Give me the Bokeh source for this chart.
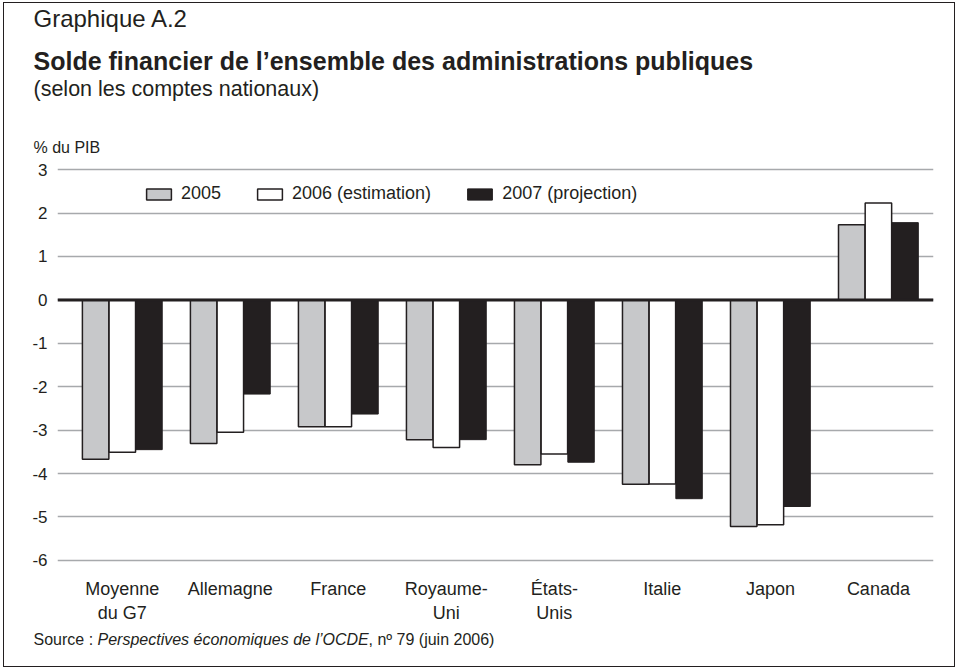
from bokeh.plotting import figure
from bokeh.models import (ColumnDataSource, Range1d, FixedTicker, Span, Label, Legend, LegendItem)
from bokeh.transform import dodge
from bokeh.embed import file_html
from bokeh.resources import INLINE

# ---- data ----
categories = ["Moyenne\ndu G7", "Allemagne", "France", "Royaume-\nUni", "États-\nUnis",
              "Italie", "Japon", "Canada"]
v2005 = [-3.67, -3.31, -2.92, -3.22, -3.80, -4.25, -5.22, 1.73]
v2006 = [-3.51, -3.05, -2.92, -3.40, -3.55, -4.24, -5.18, 2.23]
v2007 = [-3.45, -2.17, -2.63, -3.22, -3.74, -4.58, -4.76, 1.78]
series_labels = ["2005", "2006 (estimation)", "2007 (projection)"]
y_ticks = [-6, -5, -4, -3, -2, -1, 0, 1, 2, 3]

INK = "#231f20"
GREY = "#c7c8ca"
GRID = "#a7a9ac"
FONT = "Liberation Sans"
W = 952
BORDER = "1px solid #231f20"

def text_panel(y0, y1, styles):
    f = figure(width=W, height=y1 - y0, output_backend="svg", toolbar_location=None,
               title=None, x_range=Range1d(4, 4 + W), y_range=Range1d(y1, y0),
               x_axis_location=None, y_axis_location=None,
               min_border=0, min_border_left=0, min_border_right=0,
               min_border_top=0, min_border_bottom=0, styles=styles)
    f.outline_line_color = None
    f.xgrid.visible = False
    f.ygrid.visible = False
    return f

def lab(f, text, ax, ay, size, style="normal"):
    f.add_layout(Label(x=ax, y=ay, text=text, text_font=FONT, text_font_size=size,
                       text_font_style=style, text_color=INK,
                       text_baseline="alphabetic", text_align="left"))

# ---- header ----
head = text_panel(3, 158, {"margin-left": "3px", "margin-top": "2px", "border-top": BORDER,
                           "border-left": BORDER, "border-right": BORDER})
lab(head, "Graphique A.2", 33, 18, "24px")
lab(head, "Solde financier de l’ensemble des administrations publiques", 33, 60, "25px", "bold")
lab(head, "(selon les comptes nationaux)", 33, 88, "21.5px")
lab(head, "% du PIB", 33, 147, "16px")

# ---- main chart ----
idx = list(range(len(categories)))
src = ColumnDataSource(dict(idx=idx, v2005=v2005, v2006=v2006, v2007=v2007))

p = figure(width=W, height=468, output_backend="svg", toolbar_location=None, title=None,
           x_range=Range1d(-0.6, 7.51), y_range=Range1d(-6.05, 3.05),
           min_border_left=53, min_border_right=23, min_border_top=10, min_border_bottom=63,
           styles={"margin-left": "3px", "border-left": BORDER, "border-right": BORDER})
p.outline_line_color = None

bw = 0.245
off = 0.247
r1 = p.vbar(x=dodge("idx", -off, range=p.x_range), top="v2005", bottom=0, width=bw, source=src,
            fill_color=GREY, line_color=INK, line_width=1.5)
r2 = p.vbar(x=dodge("idx", 0, range=p.x_range), top="v2006", bottom=0, width=bw, source=src,
            fill_color="white", line_color=INK, line_width=1.5)
r3 = p.vbar(x=dodge("idx", off, range=p.x_range), top="v2007", bottom=0, width=bw, source=src,
            fill_color=INK, line_color=INK, line_width=1)

p.add_layout(Span(location=0, dimension="width", line_color=INK, line_width=3))

p.xgrid.grid_line_color = None
p.ygrid.ticker = FixedTicker(ticks=y_ticks)
p.ygrid.grid_line_color = GRID
p.ygrid.grid_line_width = 1.3

p.yaxis.ticker = FixedTicker(ticks=y_ticks)
p.yaxis.major_label_overrides = {t: str(t) for t in y_ticks}
p.xaxis.ticker = FixedTicker(ticks=idx)
p.xaxis.major_label_overrides = {i: c for i, c in zip(idx, categories)}
for ax in (p.xaxis, p.yaxis):
    ax.axis_line_color = None
    ax.major_tick_line_color = None
    ax.minor_tick_line_color = None
    ax.major_tick_out = 0
    ax.major_tick_in = 0
    ax.minor_tick_out = 0
    ax.major_label_text_font = FONT
    ax.major_label_text_color = INK
p.yaxis.major_label_text_font_size = "17px"
p.xaxis.major_label_text_font_size = "18px"
p.yaxis.major_label_standoff = 10
p.xaxis.major_label_standoff = 16

legend = Legend(items=[LegendItem(label=series_labels[0], renderers=[r1]),
                       LegendItem(label=series_labels[1], renderers=[r2]),
                       LegendItem(label=series_labels[2], renderers=[r3])],
                orientation="horizontal", location=(86, 358),
                padding=0, margin=0, spacing=33, label_standoff=7,
                glyph_width=31, glyph_height=14, label_height=14,
                border_line_color=None, background_fill_alpha=0,
                label_text_font=FONT, label_text_font_size="18px", label_text_color=INK)
p.add_layout(legend)

# ---- footer ----
foot = text_panel(626, 668, {"margin-left": "3px", "border-bottom": BORDER,
                             "border-left": BORDER, "border-right": BORDER})
lab(foot, "Source : ", 33, 640, "16px")
lab(foot, "Perspectives économiques de l’OCDE", 97, 640, "16px", "italic")
lab(foot, ", nº 79 (juin 2006)", 368, 640, "16px")

open("out.html", "w").write(file_html([head, p, foot], INLINE))
